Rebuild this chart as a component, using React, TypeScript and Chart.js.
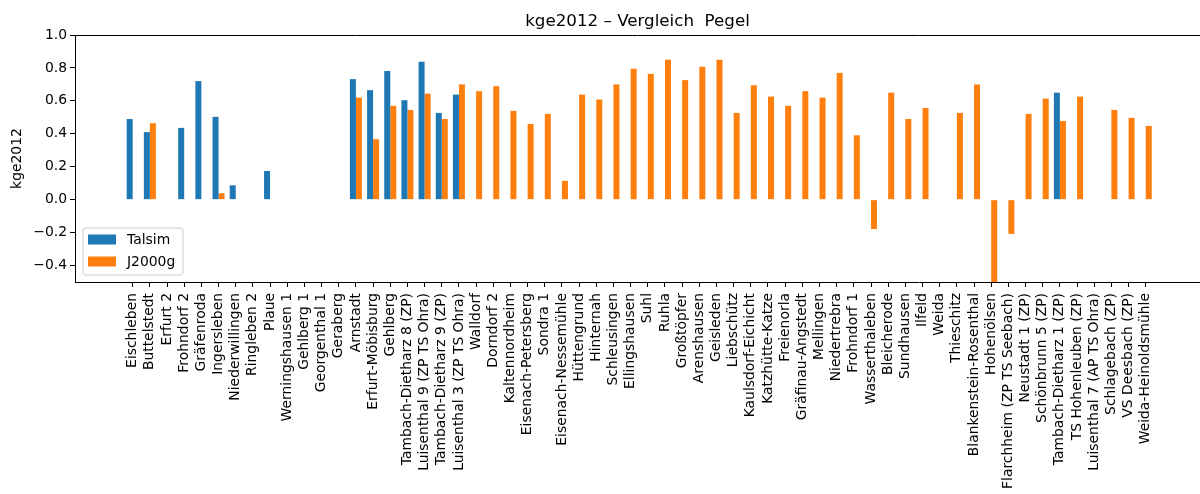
import React, { useEffect, useRef } from "react";
import { Chart, registerables } from "chart.js";

Chart.register(...registerables);

const categories = [
  "Eischleben", "Buttelstedt", "Erfurt 2", "Frohndorf 2", "Gräfenroda", "Ingersleben",
  "Niederwillingen", "Ringleben 2", "Plaue", "Werningshausen 1", "Gehlberg 1", "Georgenthal 1",
  "Geraberg", "Arnstadt", "Erfurt-Möbisburg", "Gehlberg", "Tambach-Dietharz 8 (ZP)",
  "Luisenthal 9 (ZP TS Ohra)", "Tambach-Dietharz 9 (ZP)", "Luisenthal 3 (ZP TS Ohra)",
  "Walldorf", "Dorndorf 2", "Kaltennordheim", "Eisenach-Petersberg", "Sondra 1",
  "Eisenach-Nessemühle", "Hüttengrund", "Hinternah", "Schleusingen", "Ellingshausen",
  "Suhl", "Ruhla", "Großtöpfer", "Arenshausen", "Geisleden", "Liebschütz",
  "Kaulsdorf-Eichicht", "Katzhütte-Katze", "Freienorla", "Gräfinau-Angstedt", "Mellingen",
  "Niedertrebra", "Frohndorf 1", "Wasserthaleben", "Bleicherode", "Sundhausen", "Ilfeld",
  "Weida", "Thieschitz", "Blankenstein-Rosenthal", "Hohenölsen", "Flarchheim (ZP TS Seebach)",
  "Neustadt 1 (ZP)", "Schönbrunn 5 (ZP)", "Tambach-Dietharz 1 (ZP)", "TS Hohenleuben (ZP)",
  "Luisenthal 7 (AP TS Ohra)", "Schlagebach (ZP)", "VS Deesbach (ZP)", "Weida-Heinoldsmühle",
];

const talsim: (number | null)[] = [
  0.49, 0.41, null, 0.436, 0.72, 0.503, 0.087, null, 0.174, null,
  null, null, null, 0.732, 0.665, 0.782, 0.604, 0.837, 0.527, 0.638,
  null, null, null, null, null, null, null, null, null, null,
  null, null, null, null, null, null, null, null, null, null,
  null, null, null, null, null, null, null, null, null, null,
  null, null, null, null, 0.65, null, null, null, null, null,
];

const j2000g: (number | null)[] = [
  null, 0.464, null, null, null, 0.039, null, null, null, null,
  null, null, null, 0.62, 0.367, 0.57, 0.545, 0.644, 0.49, 0.70,
  0.659, 0.689, 0.539, 0.46, 0.521, 0.114, 0.638, 0.608, 0.70, 0.795,
  0.764, 0.849, 0.726, 0.807, 0.849, 0.527, 0.695, 0.626, 0.57, 0.659,
  0.62, 0.77, 0.391, -0.178, 0.65, 0.49, 0.557, null, 0.527, 0.70,
  -0.6, -0.208, 0.521, 0.614, 0.478, 0.626, null, 0.545, 0.497, 0.448,
];

const yTicks = [-0.4, -0.2, 0.0, 0.2, 0.4, 0.6, 0.8, 1.0];

const TITLE = "kge2012 – Vergleich  Pegel";
const Y_LABEL = "kge2012";
const FONT = "'DejaVu Sans', sans-serif";
const BLUE = "#1f77b4";
const ORANGE = "#ff7f0e";

const decorPlugin = {
  id: "decor",
  afterDraw(chart: any) {
    const { ctx, chartArea } = chart;
    const { left, right, top } = chartArea;
    ctx.save();
    // top spine
    ctx.strokeStyle = "#000";
    ctx.lineWidth = 1;
    ctx.beginPath();
    ctx.moveTo(left, top + 0.5);
    ctx.lineTo(right, top + 0.5);
    ctx.stroke();
    // title
    ctx.fillStyle = "#000";
    ctx.font = `16.7px ${FONT}`;
    ctx.textAlign = "center";
    ctx.textBaseline = "alphabetic";
    ctx.fillText(TITLE, (left + right) / 2, 26);
    // legend
    const lx = 83, ly = 228, lw = 100, lh = 47, r = 3;
    ctx.beginPath();
    ctx.moveTo(lx + r, ly);
    ctx.lineTo(lx + lw - r, ly);
    ctx.arcTo(lx + lw, ly, lx + lw, ly + r, r);
    ctx.lineTo(lx + lw, ly + lh - r);
    ctx.arcTo(lx + lw, ly + lh, lx + lw - r, ly + lh, r);
    ctx.lineTo(lx + r, ly + lh);
    ctx.arcTo(lx, ly + lh, lx, ly + lh - r, r);
    ctx.lineTo(lx, ly + r);
    ctx.arcTo(lx, ly, lx + r, ly, r);
    ctx.closePath();
    ctx.fillStyle = "rgba(255,255,255,0.8)";
    ctx.fill();
    ctx.strokeStyle = "#cccccc";
    ctx.lineWidth = 1;
    ctx.stroke();
    ctx.font = `13.9px ${FONT}`;
    ctx.textAlign = "left";
    ctx.textBaseline = "middle";
    chart.data.datasets.forEach((ds: any, i: number) => {
      const cy = 239.5 + i * 22;
      ctx.fillStyle = ds.backgroundColor;
      ctx.fillRect(88, cy - 5, 28, 10);
      ctx.fillStyle = "#000";
      ctx.fillText(ds.label, 127, cy + 1);
    });
    ctx.restore();
  },
};

export default function App() {
  const ref = useRef<HTMLCanvasElement>(null);
  useEffect(() => {
    if (!ref.current) return;
    Chart.defaults.font.family = FONT;
    Chart.defaults.color = "#000";
    const chart = new Chart(ref.current, {
      type: "bar",
      data: {
        datasets: [
          {
            label: "Talsim",
            data: talsim.map((v, i) => ({ x: i, y: v })) as any,
            backgroundColor: BLUE,
            categoryPercentage: 0.7,
            barPercentage: 1.0,
          },
          {
            label: "J2000g",
            data: j2000g.map((v, i) => ({ x: i, y: v })) as any,
            backgroundColor: ORANGE,
            categoryPercentage: 0.7,
            barPercentage: 1.0,
          },
        ],
      },
      options: {
        animation: false,
        responsive: false,
        maintainAspectRatio: false,
        layout: { padding: { top: 35, left: 0, right: 0, bottom: 0 } },
        plugins: {
          legend: { display: false },
          title: { display: false },
          tooltip: { enabled: false },
        },
        scales: {
          x: {
            type: "linear",
            min: -3.36,
            max: 62.16,
            offset: false,
            grid: { display: true, offset: false, drawOnChartArea: false, tickLength: 5, tickColor: "#000", tickWidth: 1 },
            border: { display: true, color: "#000", width: 1 },
            afterBuildTicks: (axis: any) => {
              axis.ticks = categories.map((_, i) => ({ value: i }));
            },
            afterFit: (axis: any) => {
              axis.height = 212;
            },
            ticks: {
              autoSkip: false,
              maxRotation: 90,
              minRotation: 90,
              padding: 6,
              font: { size: 13.9 },
              color: "#000",
              callback: (v: any) => categories[v] ?? "",
            },
          },
          y: {
            type: "linear",
            min: -0.5,
            max: 1.0,
            grid: { display: true, drawOnChartArea: false, tickLength: 5, tickColor: "#000", tickWidth: 1 },
            border: { display: true, color: "#000", width: 1 },
            afterBuildTicks: (axis: any) => {
              axis.ticks = yTicks.map((v) => ({ value: v }));
            },
            afterFit: (axis: any) => {
              axis.width = 75;
            },
            title: {
              display: true,
              text: Y_LABEL,
              font: { size: 13.9 },
              color: "#000",
              padding: { top: 9, bottom: 0 },
            },
            ticks: {
              padding: 3,
              font: { size: 13.9 },
              color: "#000",
              callback: (v: any) => {
                const s = Number(v).toFixed(1);
                return s.startsWith("-") ? "\u2212" + s.slice(1) : s;
              },
            },
          },
        },
      },
      plugins: [decorPlugin],
    });
    return () => chart.destroy();
  }, []);
  return (
    <div style={{ position: "fixed", left: 0, top: 0, width: 1200, height: 494, background: "#fff" }}>
      <canvas ref={ref} width={1200} height={494} style={{ display: "block" }} />
    </div>
  );
}
